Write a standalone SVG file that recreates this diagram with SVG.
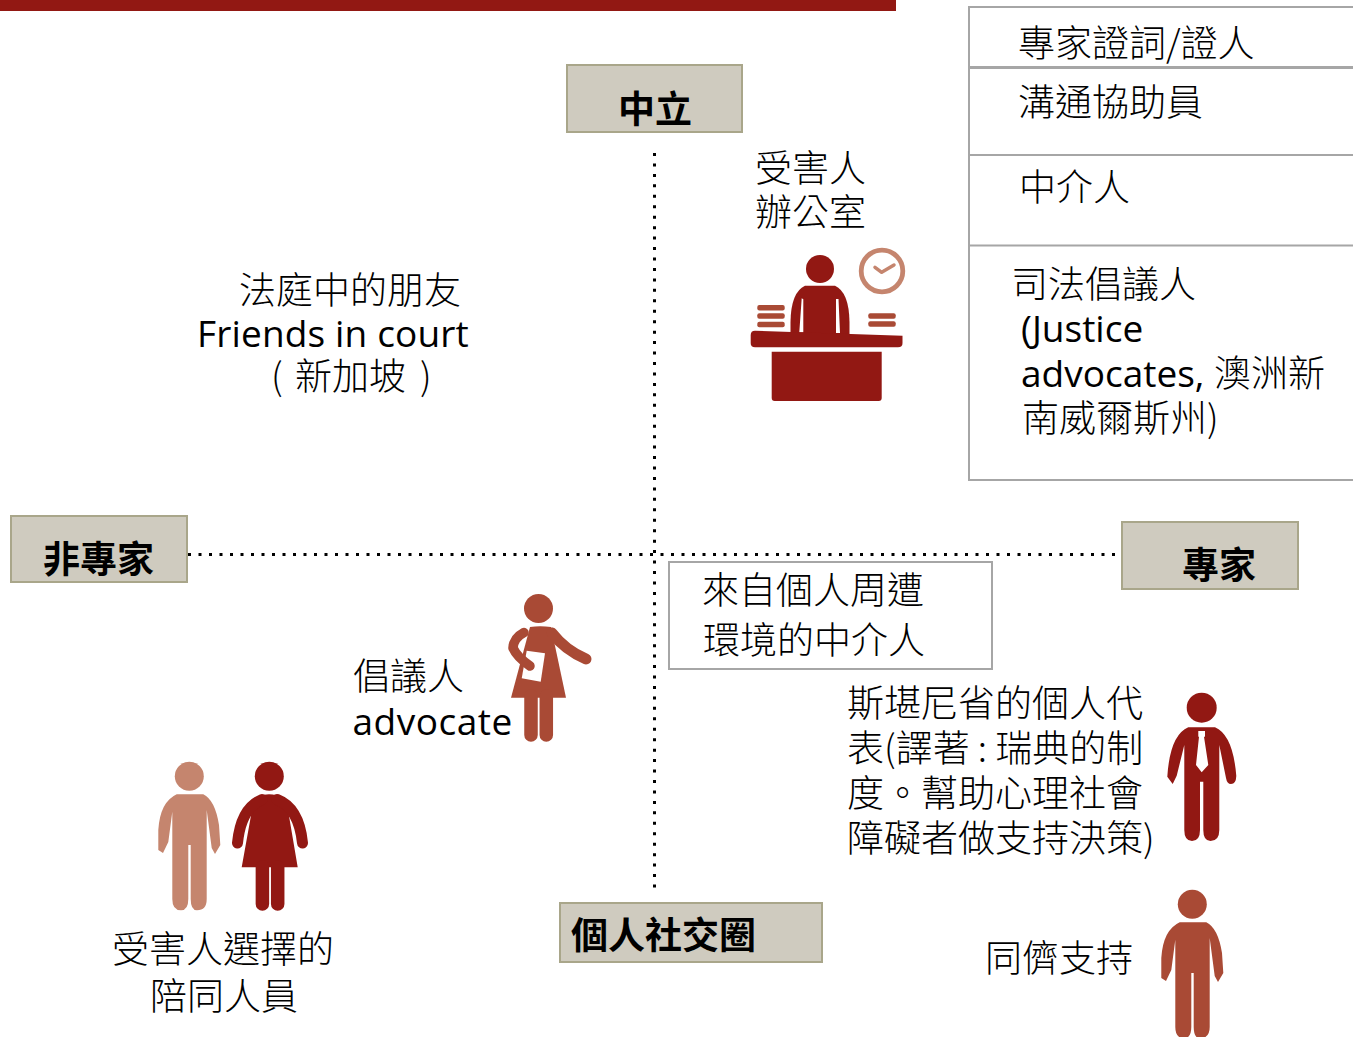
<svg xmlns="http://www.w3.org/2000/svg" width="1353" height="1037" viewBox="0 0 1353 1037">
<style>
text{font-family:"Noto Sans CJK TC","Open Sans",sans-serif;fill:#000;font-size:37px;font-weight:300}
tspan.e,text.e{font-family:"Open Sans","Noto Sans CJK TC",sans-serif;font-weight:400}
text.h{font-weight:700;font-size:37px}
.tag{fill:#cfcbbf;stroke:#a9a68a;stroke-width:2}
.box{fill:#fff;stroke:#a6a6a6;stroke-width:2}
.dot{fill:none;stroke:#000;stroke-width:3;stroke-dasharray:3 7.500}
.r{fill:#921813}.m{fill:#a94a35}.l{fill:#c5856e}
.rs{stroke:#921813}.ms{stroke:#a94a35}.ls{stroke:#c5856e}
.limb{fill:none;stroke-linecap:round;stroke-linejoin:round}
</style>
<defs>
<path id="man" d="M176.700 794.300H203.300Q215 800 219 825L220.300 845L215 854L211.700 848L206.700 810V899Q206.700 910.300 197 910.300Q190.700 910.300 190.700 899V845H188.300V899Q188.300 910.300 181 910.300Q172.300 910.300 172.300 899V811.700L168.300 842L163 853L158.300 850V830Q160 802 176.700 794.300Z"/>
</defs>
<rect id="top-bar" x="0" y="0" width="896" height="11" class="r"/>
<g id="connectors">
<path class="dot" style="stroke-dasharray:3 7.450" d="M654.500 153V888"/>
<path class="dot" d="M188 554.500H1116"/>
</g>
<g id="node-neutral"><rect class="tag" x="567" y="65" width="175" height="67"/><text class="h" x="618" y="123">中立</text></g>
<g id="node-nonexpert"><rect class="tag" x="11" y="516" width="176" height="66"/><text class="h" x="43" y="573">非專家</text></g>
<g id="node-expert"><rect class="tag" x="1122" y="522" width="176" height="67"/><text class="h" x="1182" y="579">專家</text></g>
<g id="node-social"><rect class="tag" x="560" y="903" width="262" height="59"/><text class="h" x="571" y="949">個人社交圈</text></g>
<g id="node-right-table">
<rect class="box" x="969" y="7" width="400" height="473"/>
<path d="M969 67.500H1353" fill="none" stroke="#a6a6a6" stroke-width="3"/>
<path d="M969 155H1353M969 245.500H1353" fill="none" stroke="#a6a6a6" stroke-width="2"/>
<text x="1018" y="57">專家證詞/證人</text>
<text x="1018" y="116">溝通協助員</text>
<text x="1019" y="201">中介人</text>
<text x="1011" y="298">司法倡議人</text>
<text class="e" x="1021" y="342">(Justice</text>
<text x="1021" y="387"><tspan class="e">advocates, </tspan>澳洲新</text>
<text x="1022" y="432">南威爾斯州)</text>
</g>
<g id="node-victim-office">
<text x="755" y="182">受害人</text>
<text x="755" y="226">辦公室</text>
<circle cx="820" cy="269" r="14" class="r"/>
<path class="r" d="M805 285.700H835Q849 292 849.500 322V334H790.500V322Q791 292 805 285.700Z"/>
<path fill="#fff" d="M801.700 298.300L799.300 332.300H803.300V299.300ZM836 299V333H840L838.500 299Z"/>
<path class="r" d="M755 330.700L902.500 335.700V343Q902.500 347.300 898 347.300H755Q750.700 347.300 750.700 343V335Q750.700 330.700 755 330.700Z"/>
<path class="r" d="M771.700 351.700H881.700V398Q881.700 401 878.700 401H774.700Q771.700 401 771.700 398Z"/>
<g class="m"><rect x="757.300" y="305" width="27.400" height="5.500" rx="2"/><rect x="757.300" y="313.300" width="27.400" height="5.500" rx="2"/><rect x="757.300" y="321.700" width="27.400" height="5.500" rx="2"/><rect x="868.300" y="313.300" width="27.400" height="5.500" rx="2"/><rect x="868.300" y="321.300" width="27.400" height="5.500" rx="2"/></g>
<circle cx="882" cy="271" r="20.800" fill="none" stroke="#c5856e" stroke-width="4.800"/>
<path d="M875 267.300L881.700 272.300L894 265" fill="none" stroke="#c5856e" stroke-width="3.500" stroke-linecap="round" stroke-linejoin="round"/>
</g>
<g id="node-friends">
<text x="239" y="304">法庭中的朋友</text>
<text class="e" x="197" y="347" letter-spacing="0.150">Friends in court</text>
<text x="271" y="390">( <tspan x="295">新加坡</tspan> <tspan x="420">)</tspan></text>
</g>
<g id="node-community-box">
<rect class="box" x="669" y="562" width="323" height="107"/>
<text x="702" y="604">來自個人周遭</text>
<text x="703" y="654">環境的中介人</text>
</g>
<g id="node-advocate">
<text x="353" y="690">倡議人</text>
<text class="e" x="352.500" y="735" letter-spacing="0.500">advocate</text>
<circle cx="538.500" cy="608.500" r="14.500" class="m"/>
<path class="m" d="M530 627Q540 625.500 551 627L566 697.700H511Z"/>
<path class="limb ms" stroke-width="11" d="M552 633Q565 650 586 659"/>
<path fill="#fff" d="M526.700 650.700L545 653.300L540.700 681.700L521.700 678.300Z"/>
<path fill="#fff" d="M520 640.500L518 653L523 656Z"/>
<path class="limb ms" stroke-width="9.500" d="M524 632.500Q513.500 638 513 648Q517 657 530 666"/>
<path class="limb ms" stroke-width="13.500" d="M531 696V735M546.300 696V735"/>
</g>
<g id="node-companions">
<circle cx="189.300" cy="776.300" r="14.500" class="l"/>
<use href="#man" class="l"/>
<circle cx="269.300" cy="776.300" r="14.500" class="r"/>
<path class="r" d="M252.300 808.300Q254 794.300 269 794.300Q285 794.300 287.700 808.300L297.700 867.300H241.700Z"/>
<path class="limb rs" stroke-width="11" d="M262 799.500Q241 808 237.500 843M277 799.500Q299 808 302.500 843"/>
<path class="limb rs" stroke-width="13.500" d="M262.400 867V904M277.700 867V904"/>
<text x="112" y="963">受害人選擇的</text>
<text x="150" y="1010">陪同人員</text>
</g>
<g id="node-sweden">
<text x="847" y="717">斯堪尼省的個人代</text>
<text x="847" y="762">表(譯著 : 瑞典的制</text>
<text x="847" y="807">度。幫助心理社會</text>
<text x="847" y="852">障礙者做支持決策)</text>
<circle cx="1201.700" cy="707.700" r="15" class="r"/>
<path class="r" d="M1188.300 727.300H1215Q1233 735 1236.300 776Q1236 784 1231 784Q1227 784 1226 778L1219.300 745V830Q1219.300 841 1210.500 841Q1203.300 841 1203.300 830V781.700H1200V830Q1200 841 1192 841Q1184.300 841 1184.300 830V745L1176.700 775.700L1172.700 784L1167.300 776.700Q1170 735 1188.300 727.300Z"/>
<path fill="#fff" d="M1198.300 731H1205V736.700H1204L1208.300 765L1201.700 772.300L1196 765L1199 736.700H1198.300Z"/>
</g>
<g id="node-peer">
<text x="985" y="972">同儕支持</text>
<circle cx="1192.300" cy="904.300" r="14.500" class="m"/>
<use href="#man" class="m" transform="translate(1003 128)"/>
</g>
</svg>
